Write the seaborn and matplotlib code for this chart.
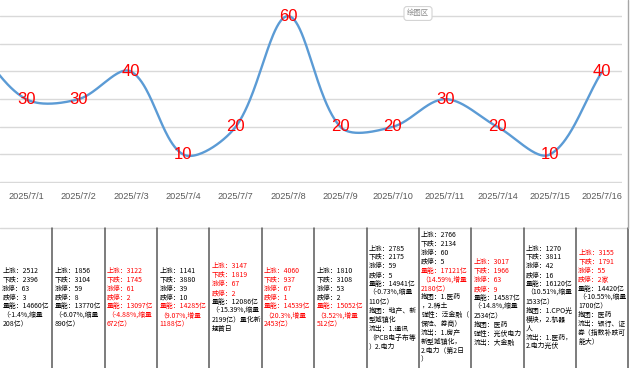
import numpy as np
import pandas as pd
import matplotlib
matplotlib.use("Agg")
import matplotlib.pyplot as plt
from matplotlib.lines import Line2D
import seaborn as sns

# ---------------- data ----------------
dates = ["2025/7/1", "2025/7/2", "2025/7/3", "2025/7/4", "2025/7/7", "2025/7/8",
         "2025/7/9", "2025/7/10", "2025/7/11", "2025/7/14", "2025/7/15", "2025/7/16"]
values = [30, 30, 40, 10, 20, 60, 20, 20, 30, 20, 10, 40]
# previous day, cut off at the left edge of the screenshot
prev_value = 50

notes = [
    ["上涨：2512", "下跌：2396", "涨停：63", "跌停：3", "量能：14660亿", "（-1.4%,缩量", "208亿）"],
    ["上涨：1856", "下跌：3104", "涨停：59", "跌停：8", "量能：13770亿", "（-6.07%,缩量", "890亿）"],
    ["上涨：3122", "下跌：1745", "涨停：61", "跌停：2", "量能：13097亿", "（-4.88%,缩量", "672亿）"],
    ["上涨：1141", "下跌：3880", "涨停：39", "跌停：10", "量能：14285亿", "（9.07%,增量", "1188亿）"],
    ["上涨：3147", "下跌：1819", "涨停：67", "跌停：2", "量能：12086亿", "（-15.39%,缩量", "2199亿）量化新", "规首日"],
    ["上涨：4060", "下跌：937", "涨停：67", "跌停：1", "量能：14539亿", "（20.3%,增量", "2453亿）"],
    ["上涨：1810", "下跌：3108", "涨停：53", "跌停：2", "量能：15052亿", "（3.52%,增量", "512亿）"],
    ["上涨：2785", "下跌：2175", "涨停：59", "跌停：5", "量能：14941亿", "（-0.73%,缩量", "110亿）",
     "抱团：地产、新", "型城镇化", "流出：1.通讯", "（PCB电子布等", "）2.电力"],
    ["上涨：2766", "下跌：2134", "涨停：60", "跌停：5", "量能：17121亿", "（14.59%,增量", "2180亿）",
     "抱团：1.医药", "，2.稀土", "弹性：泛金融（", "保险、券商）", "流出：1.房产", "新型城镇化，", "2.电力（第2日", "）"],
    ["上涨：3017", "下跌：1966", "涨停：63", "跌停：9", "量能：14587亿", "（-14.8%,缩量", "2534亿）",
     "抱团：医药", "弹性：光伏电力", "流出：大金融"],
    ["上涨：1270", "下跌：3811", "涨停：42", "跌停：16", "量能：16120亿", "（10.51%,缩量", "1533亿）",
     "抱团：1.CPO光", "模块，2.机器", "人", "流出：1.医药，", "2.电力光伏"],
    ["上涨：3155", "下跌：1791", "涨停：55", "跌停：2家", "量能：14420亿", "（-10.55%,缩量", "1700亿）",
     "抱团：医药", "流出：银行、证", "券（指数补跌可", "能大）"],
]
# which lines of each note are red: (start, end)
red_lines = [None, None, (0, 7), (4, 7), (0, 4), (0, 7), (4, 7), None, (4, 7), (0, 4), None, (0, 4)]

# ---------------- style ----------------
sns.set_theme(style="white")
plt.rcParams["font.family"] = ["Noto Sans CJK SC", "DejaVu Sans"]

W, H = 630, 368
fig = plt.figure(figsize=(W / 100, H / 100), dpi=100)
fig.patch.set_facecolor("white")

X0, STEP = 26.2, 52.36        # pixel position of first category and spacing
AX_W = 622
Y_ZERO = 183                  # pixel row of value 0
PX_PER_UNIT = 2.767

xlim = (-X0 / STEP, (AX_W - X0) / STEP)

ax = fig.add_axes([0, 1 - Y_ZERO / H, AX_W / W, Y_ZERO / H])
ax.set_facecolor("white")

# smoothed line (Excel-like Bezier smoothing, chord-length weighted in pixel space)
xs = np.arange(-1, len(values), dtype=float)
ys = np.array([prev_value] + values, dtype=float)
P = np.column_stack([xs, ys])
scale = np.array([STEP, PX_PER_UNIT])


def dist(a, b):
    return float(np.hypot(*((b - a) * scale)))


curve = []
t = np.linspace(0, 1, 50)
for i in range(len(P) - 1):
    p0 = P[max(i - 1, 0)]
    p1 = P[i]
    p2 = P[i + 1]
    p3 = P[min(i + 2, len(P) - 1)]
    d01, d12, d23 = dist(p0, p1), dist(p1, p2), dist(p2, p3)
    c1 = p1 + (p2 - p0) * (d12 / (d01 + d12)) / 3
    c2 = p2 - (p3 - p1) * (d12 / (d12 + d23)) / 3
    seg = ((1 - t) ** 3)[:, None] * p1 + (3 * (1 - t) ** 2 * t)[:, None] * c1 \
        + (3 * (1 - t) * t ** 2)[:, None] * c2 + (t ** 3)[:, None] * p2
    curve.append(seg if i == 0 else seg[1:])
curve = np.vstack(curve)
df_curve = pd.DataFrame({"x": curve[:, 0], "y": curve[:, 1]})
sns.lineplot(data=df_curve, x="x", y="y", ax=ax, color="#5B9BD5", lw=1.7,
             sort=False, estimator=None)

for i, v in enumerate(values):
    ax.text(i, v, str(v), ha="center", va="center", color="#FF0000", fontsize=12,
            family=["Liberation Sans Narrow", "Liberation Sans", "DejaVu Sans"])

ax.set_xlim(*xlim)
ax.set_ylim(-0.3, Y_ZERO / PX_PER_UNIT - 0.3)
ax.set_yticks(range(0, 70, 10))
ax.set_yticklabels([])
ax.yaxis.grid(True, color="#D9D9D9", lw=1.0)
ax.xaxis.grid(False)
ax.set_xticks(range(len(dates)))
ax.set_xticklabels(dates, fontsize=6.6, color="#595959",
                   family=["Liberation Sans", "DejaVu Sans"])
ax.tick_params(axis="both", length=0)
ax.tick_params(axis="x", pad=6.5)
ax.set_xlabel("")
ax.set_ylabel("")
for s in ax.spines.values():
    s.set_visible(False)

# "绘图区" tooltip
fig.text(418 / W, 1 - 13.5 / H, "绘图区", fontsize=5.3, color="#8c8c8c", ha="center", va="center",
         bbox=dict(boxstyle="round,pad=0.4", fc="white", ec="#d4d4d4", lw=0.8))

# right border of chart object
fig.add_artist(Line2D([628 / W, 628 / W], [1 - 228 / H, 1], color="#a6a6a6", lw=1.0))

# ---------------- table ----------------
T_TOP = 228
tax = fig.add_axes([0, 0, AX_W / W, (H - T_TOP) / H])
tax.set_xlim(*xlim)
tax.set_ylim(H, T_TOP)
tax.axis("off")

tax.plot([xlim[0], len(dates) - 0.5], [T_TOP - 0.5, T_TOP - 0.5], color="#D9D9D9", lw=1.0, clip_on=False)
for i in range(len(dates)):
    tax.plot([i + 0.5, i + 0.5], [T_TOP, H], color="#595959", lw=1.1, clip_on=False)

CENTER = 297.5
SP = 8.9
shift = [0, 0, 0, 0, 0, 0, 0, 0, 0, 5, 0, 0]
for i, lines in enumerate(notes):
    n = len(lines)
    y0 = CENTER - (n - 1) / 2 * SP + shift[i]
    rr = red_lines[i]
    for j, line in enumerate(lines):
        red = rr is not None and rr[0] <= j < rr[1]
        tax.text(i - 0.5 + 2.2 / STEP, y0 + j * SP, line, ha="left", va="center",
                 fontsize=4.95, fontweight="medium",
                 color="#FF0000" if red else "#000000", clip_on=False)

fig.savefig("out.png", dpi=100, facecolor="white")
